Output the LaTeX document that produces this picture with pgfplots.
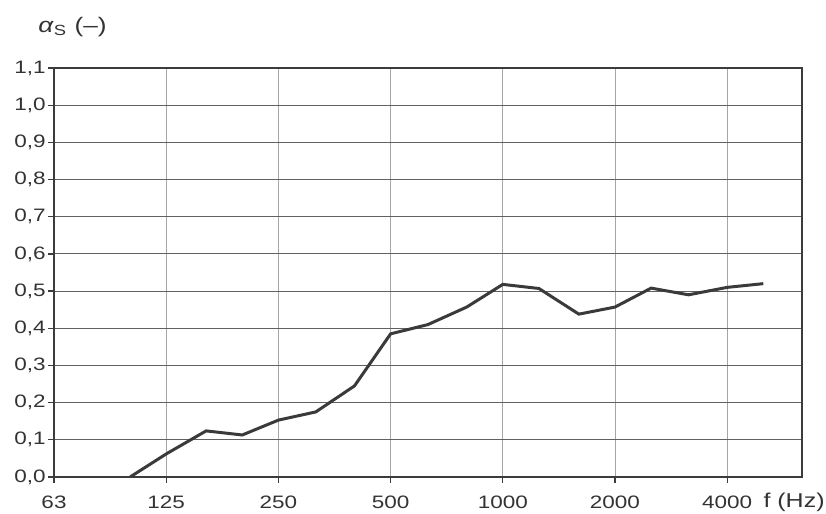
\documentclass[border=0pt]{standalone}
\usepackage{pgfplots}
\pgfplotsset{compat=1.18}
\usepackage{fontspec}
\setmainfont{Liberation Sans}[FakeStretch=1.25]
\definecolor{lineC}{RGB}{58,58,58}
\definecolor{frameC}{RGB}{60,60,60}
\begin{document}
\fontsize{9}{11}\selectfont
\begin{tikzpicture}
\useasboundingbox (-27pt,-18.5pt) rectangle (386pt,238.5pt);
\begin{axis}[
  scale only axis, width=374pt, height=204.5pt,
  at={(0pt,0pt)}, anchor=south west,
  xmode=log, xmin=62.5, xmax=6350, ymin=0, ymax=1.1,
  xtick={62.5,125,250,500,1000,2000,4000},
  xticklabels={63,125,250,500,1000,2000,4000},
  minor xtick={},
  ytick={0,0.1,0.2,0.3,0.4,0.5,0.6,0.7,0.8,0.9,1.0,1.1},
  yticklabels={{0,0},{0,1},{0,2},{0,3},{0,4},{0,5},{0,6},{0,7},{0,8},{0,9},{1,0},{1,1}},
  grid=major,
  tick align=outside, tick pos=left, major tick length=3pt,
  tick style={color=frameC, line width=0.6pt},
  axis line style={line width=1.2pt, color=frameC},
  x grid style={color=black!35, line width=0.4pt},
  y grid style={color=black!62, line width=0.55pt},
  xticklabel style={font=\fontsize{9}{11}\selectfont, yshift=-3.5pt, text=black!80},
  yticklabel style={font=\fontsize{9}{11}\selectfont, xshift=2pt, text=black!80},
  /pgf/number format/assume math mode=true,
]
\addplot[color=lineC, line width=1.5pt] coordinates {
 (100,0) (125,0.062) (160,0.124) (200,0.113) (250,0.153) (315,0.175)
 (400,0.245) (500,0.385) (630,0.41) (800,0.457) (1000,0.518) (1250,0.507)
 (1600,0.438) (2000,0.457) (2500,0.508) (3150,0.49) (4000,0.51) (5000,0.52)
};
\end{axis}
\node[anchor=west, text=black!80, font=\fontsize{10.5}{12}\selectfont] at (-11pt,225pt) {\textit{α}\textsubscript{S} (–)};
\node[anchor=east, text=black!80, font=\fontsize{10}{12}\selectfont, inner sep=0pt] at (385.5pt,-12.5pt) {f (Hz)};
\end{tikzpicture}
\end{document}
